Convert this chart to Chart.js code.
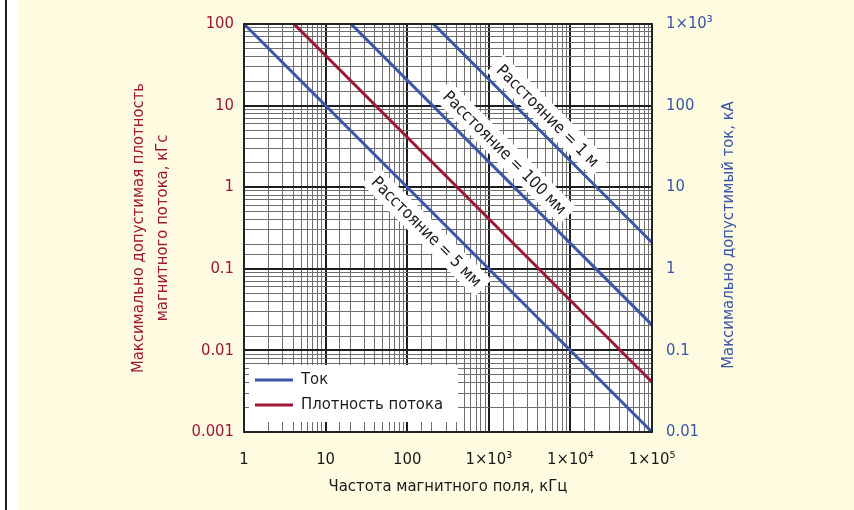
<!DOCTYPE html>
<html>
<head>
<meta charset="utf-8">
<script src="https://cdn.jsdelivr.net/npm/chart.js@4.4.0/dist/chart.umd.min.js"></script>
<style>
html, body { margin: 0; padding: 0; }
body {
    width: 854px; height: 510px; overflow: hidden;
    background: linear-gradient(to right, #fff 0 5px, #1e1e1e 5px 7px, #fff 7px 18px, #fffbe1 18px);
}
#wrap { position: relative; width: 854px; height: 510px; }
</style>
</head>
<body>
<div id="wrap"><canvas id="chart" width="854" height="510"></canvas></div>
<script>
var freqTicks = [1, 10, 100, 1000, 10000, 100000];
var freqLabels = ['1', '10', '100', '1×10³', '1×10⁴', '1×10⁵'];
var fluxTicks = [0.001, 0.01, 0.1, 1, 10, 100];
var fluxLabels = ['0.001', '0.01', '0.1', '1', '10', '100'];
var currentTicks = [0.01, 0.1, 1, 10, 100, 1000];
var currentLabels = ['0.01', '0.1', '1', '10', '100', '1×10³'];

// max current, kA (right axis), one line per distance
var distanceNames = ['Расстояние = 5 мм', 'Расстояние = 100 мм', 'Расстояние = 1 м'];
var currentFreq = [[1, 100000], [20.5, 100000], [210, 100000]];
var currentValues = [[1000, 0.01], [1000, 0.205], [1000, 2.1]];

// max flux density, kGs (left axis)
var fluxFreq = [4.1, 100000];
var fluxValues = [100, 0.0041];

// where the distance captions sit (kHz, kA)
var captionFreq = [173, 1570, 5270];
var captionValues = [2.85, 26.5, 75];

var legendNames = ['Ток', 'Плотность потока'];

var blue = '#3a56a6';
var red = '#9c1836';
var fontFamily = "'DejaVu Sans Condensed', sans-serif";
var fontSize = 16.5;

Chart.defaults.font.family = fontFamily;
Chart.defaults.font.size = fontSize;

function labelFor(values, labels, v) {
    for (let i = 0; i < values.length; i++) {
        if (Math.abs(v - values[i]) / values[i] < 1e-6) return labels[i];
    }
    return '';
}

function isMajor(v) {
    let l = Math.log10(v);
    return Math.abs(l - Math.round(l)) < 1e-6;
}

function gridColor(c) {
    if (!c.tick) return '#222';
    return isMajor(c.tick.value) ? '#1e1e1e' : '#6e6e6e';
}
function gridWidth(c) {
    if (!c.tick) return 1;
    return isMajor(c.tick.value) ? 2 : 1;
}

var datasets = [];
for (let i = 0; i < distanceNames.length; i++) {
    let pts = [];
    for (let j = 0; j < currentFreq[i].length; j++) pts.push({x: currentFreq[i][j], y: currentValues[i][j]});
    datasets.push({
        label: distanceNames[i],
        data: pts,
        borderColor: blue,
        borderWidth: 3,
        pointRadius: 0,
        yAxisID: 'y2'
    });
}
let fluxPts = [];
for (let j = 0; j < fluxFreq.length; j++) fluxPts.push({x: fluxFreq[j], y: fluxValues[j]});
datasets.push({
    label: legendNames[1],
    data: fluxPts,
    borderColor: red,
    borderWidth: 3,
    pointRadius: 0,
    yAxisID: 'y'
});

var paperPlugin = {
    id: 'paper',
    beforeDraw(chart) {
        let ctx = chart.ctx, a = chart.chartArea;
        ctx.save();
        ctx.fillStyle = '#fff';
        ctx.fillRect(a.left, a.top, a.right - a.left, a.bottom - a.top);
        ctx.restore();
    },
    beforeDatasetsDraw(chart) {
        let ctx = chart.ctx, xs = chart.scales.x, ys = chart.scales.y2, a = chart.chartArea;
        // angle of a line falling one decade per decade
        let ang = Math.atan2(ys.getPixelForValue(1) - ys.getPixelForValue(10),
                             xs.getPixelForValue(10) - xs.getPixelForValue(1));
        ctx.save();
        ctx.font = fontSize + 'px ' + fontFamily;
        ctx.textAlign = 'center';
        ctx.textBaseline = 'middle';
        for (let i = 0; i < distanceNames.length; i++) {
            let px = xs.getPixelForValue(captionFreq[i]);
            let py = ys.getPixelForValue(captionValues[i]);
            ctx.save();
            ctx.translate(px, py);
            ctx.rotate(ang);
            let w = ctx.measureText(distanceNames[i]).width;
            ctx.fillStyle = '#fff';
            ctx.fillRect(-w / 2 - 6, -12, w + 12, 24);
            ctx.fillStyle = '#1a1a1a';
            ctx.fillText(distanceNames[i], 0, 1);
            ctx.restore();
        }

        // legend box
        ctx.fillStyle = '#fff';
        ctx.fillRect(a.left + 5, a.bottom - 67, 209, 57);
        let rows = [a.bottom - 52, a.bottom - 27];
        let cols = [blue, red];
        ctx.textAlign = 'left';
        ctx.lineWidth = 3;
        for (let i = 0; i < legendNames.length; i++) {
            ctx.strokeStyle = cols[i];
            ctx.beginPath();
            ctx.moveTo(a.left + 11, rows[i]);
            ctx.lineTo(a.left + 49, rows[i]);
            ctx.stroke();
            ctx.fillStyle = '#1a1a1a';
            ctx.fillText(legendNames[i], a.left + 57, rows[i]);
        }
        ctx.restore();
    },
    afterDatasetsDraw(chart) {
        let ctx = chart.ctx, a = chart.chartArea;
        ctx.save();
        ctx.strokeStyle = '#222';
        ctx.lineWidth = 2;
        ctx.strokeRect(a.left, a.top, a.right - a.left, a.bottom - a.top);

        // right axis title, reading bottom to top
        ctx.translate(a.right + 77, (a.top + a.bottom) / 2 + 7);
        ctx.rotate(-Math.PI / 2);
        ctx.font = fontSize + 'px ' + fontFamily;
        ctx.fillStyle = blue;
        ctx.textAlign = 'center';
        ctx.textBaseline = 'middle';
        ctx.fillText('Максимально допустимый ток, кА', 0, 0);
        ctx.restore();
    }
};

new Chart(document.getElementById('chart'), {
    type: 'line',
    data: { datasets: datasets },
    options: {
        responsive: false,
        animation: false,
        layout: { padding: { top: 24, left: 0, right: 0, bottom: 0 } },
        plugins: { legend: { display: false }, tooltip: { enabled: false } },
        scales: {
            x: {
                type: 'logarithmic',
                min: 1,
                max: 100000,
                border: { display: false },
                grid: { color: gridColor, lineWidth: gridWidth, drawTicks: false },
                ticks: {
                    autoSkip: false,
                    maxRotation: 0,
                    color: '#1a1a1a',
                    padding: 18,
                    callback: function (v) { return labelFor(freqTicks, freqLabels, v); }
                },
                title: {
                    display: true,
                    text: 'Частота магнитного поля, кГц',
                    color: '#1a1a1a',
                    padding: { top: 0, bottom: 13 }
                },
                afterFit: function (s) { s.height = 78; }
            },
            y: {
                type: 'logarithmic',
                position: 'left',
                min: 0.001,
                max: 100,
                border: { display: false },
                grid: { color: gridColor, lineWidth: gridWidth, drawTicks: false },
                ticks: {
                    autoSkip: false,
                    color: red,
                    padding: 10,
                    callback: function (v) { return labelFor(fluxTicks, fluxLabels, v); }
                },
                title: {
                    display: true,
                    text: ['Максимально допустимая плотность', 'магнитного потока, кГс'],
                    color: red,
                    font: { lineHeight: 1.45 },
                    padding: { top: 127, bottom: 0 }
                },
                afterFit: function (s) { s.width = 244; }
            },
            y2: {
                type: 'logarithmic',
                position: 'right',
                min: 0.01,
                max: 1000,
                border: { display: false },
                grid: { display: false, drawTicks: false },
                ticks: {
                    autoSkip: false,
                    color: blue,
                    padding: 14,
                    callback: function (v) { return labelFor(currentTicks, currentLabels, v); }
                },
                afterFit: function (s) { s.width = 202; }
            }
        }
    },
    plugins: [paperPlugin]
});
</script>
</body>
</html>
